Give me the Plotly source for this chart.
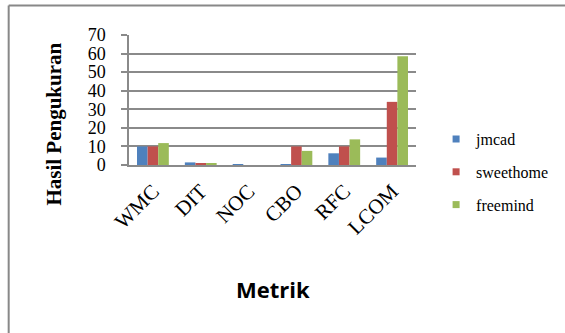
import plotly.graph_objects as go

categories = ["WMC", "DIT", "NOC", "CBO", "RFC", "LCOM"]
jmcad = [10, 1.4, 0.3, 0.3, 6.3, 4]
sweethome = [10, 1, 0, 10, 10, 34]
freemind = [11.8, 1, 0, 7.6, 13.8, 58.5]
series_names = ["jmcad", "sweethome", "freemind"]
series_values = [jmcad, sweethome, freemind]
colors = ["#4F81BD", "#C0504D", "#9BBB59"]
y_ticks = [0, 10, 20, 30, 40, 50, 60, 70]

serif = "Liberation Serif, Times New Roman, serif"
grid_col = "#8a8a8a"

fig = go.Figure()
for name, vals, col in zip(series_names, series_values, colors):
    fig.add_trace(go.Bar(x=categories, y=vals, name=name, marker_color=col,
                         marker_line_width=0, showlegend=False))
# legend entries with small square symbols
for name, col in zip(series_names, colors):
    fig.add_trace(go.Scatter(x=[None], y=[None], mode="markers", name=name,
                             marker=dict(symbol="square", size=7, color=col),
                             legendgroup=name, showlegend=True))

fig.update_layout(
    width=565, height=333,
    margin=dict(l=129, r=145, t=35, b=168),
    paper_bgcolor="white", plot_bgcolor="white",
    barmode="group", bargap=0.335, bargroupgap=0,
    font=dict(family=serif, color="black", size=16),
    legend=dict(x=1.070, y=0.33, xanchor="left", yanchor="top",
                font=dict(family=serif, size=16, color="black"),
                tracegroupgap=9, itemwidth=30, bgcolor="rgba(0,0,0,0)"),
    showlegend=True,
)
fig.update_xaxes(
    showline=True, linecolor=grid_col, linewidth=1.5,
    ticks="", tickangle=-45, tickfont=dict(family=serif, size=21),
    ticklabelstandoff=4, showgrid=False,
)
fig.update_yaxes(
    range=[0, 70], tickvals=y_ticks, showgrid=True, gridcolor=grid_col, gridwidth=1.5,
    showline=True, linecolor=grid_col, linewidth=1.5, ticks="outside", ticklen=6,
    tickcolor=grid_col, tickwidth=1.5, tickfont=dict(family=serif, size=18),
    ticklabelstandoff=12, zeroline=False,
)
# axis titles
fig.add_annotation(text="<b>Hasil Pengukuran</b>", xref="paper", yref="paper",
                   x=(52 - 129) / 291, y=(165.5 - 125) / 130, textangle=-90,
                   xanchor="center", yanchor="middle", showarrow=False,
                   font=dict(family=serif, size=21, color="black"))
fig.add_annotation(text="<b>Metrik</b>", xref="paper", yref="paper",
                   x=(274.5 - 129) / 291, y=(165.5 - 289) / 130,
                   xanchor="center", yanchor="middle", showarrow=False,
                   font=dict(family="Open Sans, sans-serif", size=22, color="black"))
# outer frame (left and top edges visible)
fx = (7 - 129) / 291
fy = (165.5 - 6) / 130
fig.add_shape(type="line", xref="paper", yref="paper", x0=fx, x1=2, y0=fy, y1=fy,
              line=dict(color="#888888", width=2))
fig.add_shape(type="line", xref="paper", yref="paper", x0=fx, x1=fx, y0=fy, y1=-2,
              line=dict(color="#888888", width=2))

fig.write_html("out.html")
